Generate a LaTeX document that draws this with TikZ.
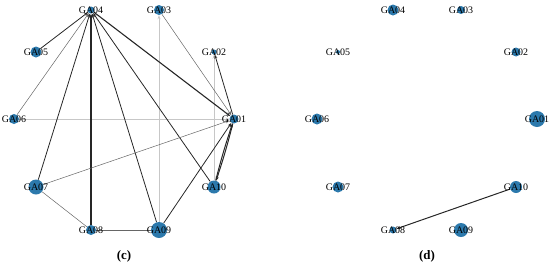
\documentclass[tikz,border=0pt]{standalone}
\usepackage{fontspec}
\setmainfont{Liberation Serif}
\usetikzlibrary{arrows.meta,backgrounds,positioning}
\definecolor{cNode}{HTML}{2C79AC}
\tikzset{
  gene/.style={circle,fill=cNode,inner sep=0pt,minimum size=#1},
  lbl/.style={font=\fontsize{10}{10}\selectfont,inner sep=0pt,text=black},
  panelcap/.style={font=\fontsize{13}{13}\selectfont\bfseries},
  tip/.style={-{Stealth[length=4pt,width=3pt]}},
  heavy/.style={tip,line width=1.3pt,black!85},
  dark/.style={tip,line width=.8pt,black!85},
  thin/.style={tip,line width=.5pt,black!60},
  pale/.style={tip,line width=.9pt,black!22},
}
\begin{document}
\begin{tikzpicture}[x=1bp,y=-1bp]
  \useasboundingbox (0,0) rectangle (550,267);
  % panel (c)
  \foreach \nm/\x/\y/\s in {01/234/119/9,02/214/52/5,03/159/10/10,04/91/10/7,05/36/52/11,
                            06/14/119/10,07/36/187/15,08/91/230/10,09/159/230/16,10/214/187/13}{
    \node[gene=\s bp,label={[lbl]center:GA\nm}] (c\nm) at (\x,\y) {};
  }
  % panel (d)
  \foreach \nm/\x/\y/\s in {01/537/119/16,02/516/52/9,03/461/10/8,04/393/10/11,05/338/52/4,
                            06/317/119/11,07/338/187/11,08/393/230/7,09/461/230/14,10/516/187/12}{
    \node[gene=\s bp,label={[lbl]center:GA\nm}] (d\nm) at (\x,\y) {};
  }
  \begin{scope}[on background layer]
    \draw[pale] (c06) -- (c01);
    \draw[pale] (c09) -- (c03);
    \draw[pale] (c10) -- (c02);
    \draw[dark] (c05) -- (c04);
    \draw[thin] (c06) -- (c04);
    \draw[dark] (c07) -- (c04);
    \draw[heavy] (c08) -- (c04);
    \draw[dark] (c09) -- (c04);
    \draw[dark] (c10) -- (c04);
    \draw[heavy,line width=1.1pt] (c04) -- (c01);
    \draw[thin] (c03) -- (c01);
    \draw[dark] (c01) -- (c02);
    \draw[thin] (c07) -- (c01);
    \draw[thin,-] (c07) -- (c08);
    \draw[thin,-] (c08) -- (c09);
    \draw[dark] (c09) -- (c01);
    \draw[heavy,line width=1pt] (c10) to[bend left=2] (c01);
    \draw[heavy,line width=1pt] (c01) to[bend left=2] (c10);
    \draw[dark,line width=1pt] (d10) -- (d08);
  \end{scope}
  \node[panelcap] (capc) at (124,256) {(c)};
  \node[panelcap] (capd) at (427,256) {(d)};
\end{tikzpicture}
\end{document}
